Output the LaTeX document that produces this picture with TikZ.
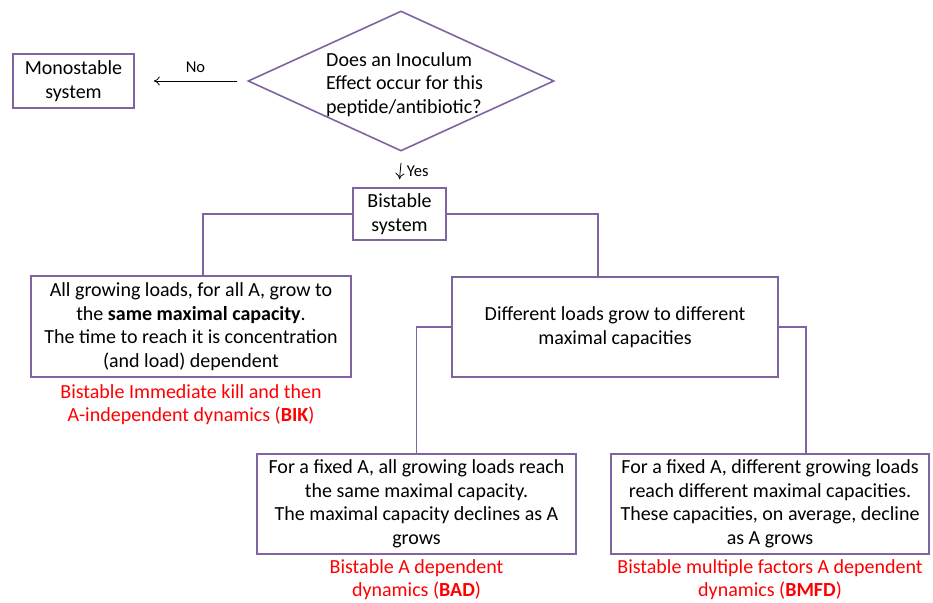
\documentclass[tikz,border=0pt]{standalone}
\usepackage{fontspec}
\setmainfont{Carlito}
\usetikzlibrary{shapes.geometric, positioning, arrows.meta}
\definecolor{boxpurple}{RGB}{128,100,162}
\definecolor{labelred}{RGB}{255,0,0}

\tikzset{
    every node/.style={font=\fontsize{20}{23.5}\selectfont},
    box/.style={draw=boxpurple, line width=1.6pt, align=center, inner sep=0pt},
    decision/.style={diamond, draw=boxpurple, line width=1.6pt, inner sep=0pt},
    link/.style={draw=boxpurple, line width=1.6pt},
    tag/.style={text=labelred, align=center},
    answer/.style={font=\fontsize{16.5}{19}\selectfont}
}

\begin{document}
\begin{tikzpicture}[x=1pt, y=-1pt, >={To[length=6pt, width=9pt]}]
    \useasboundingbox (0,0) rectangle (933,602);

    % Frage und erste Ebene
    \node[decision, minimum width=306pt, minimum height=140pt] (q) at (401,81) {};
    \node[right, align=left, inner sep=0pt] (qtext) at (326,84.5)
        {Does an Inoculum\\Effect occur for this\\peptide/antibiotic?};
    \node[box, minimum width=121pt, minimum height=54pt] (mono) at (73.5,81)
        {Monostable\\system};
    \node[box, minimum width=93pt, minimum height=52pt] (bist) at (399.5,214)
        {Bistable\\system};

    % Pfeile No / Yes
    \draw[->, line width=0.8pt] ([xshift=-10pt]q.west) -- ([xshift=19pt]mono.east)
        node[midway, above=5pt, answer] (no) {No};
    \draw[->, line width=0.8pt] ([yshift=-11pt]q.south) -- ([yshift=8pt]bist.north)
        node[midway, right=3pt, answer] (yes) {Yes};

    % zweite Ebene
    \node[box, minimum width=320pt, minimum height=101pt] (bik) at (191,326.5)
        {All growing loads, for all A, grow to\\the \textbf{same maximal capacity}.\\The time to reach it is concentration\\(and load) dependent};
    \node[tag] (biktag) at (191,404.5)
        {Bistable Immediate kill and then\\A-independent dynamics (\textbf{BIK})};
    \node[box, minimum width=326pt, minimum height=100pt] (mid) at (615,327)
        {Different loads grow to different\\maximal capacities};

    % dritte Ebene
    \node[box, minimum width=319pt, minimum height=100pt] (bad) at (416.5,504)
        {For a fixed A, all growing loads reach\\the same maximal capacity.\\The maximal capacity declines as A\\grows};
    \node[tag] (badtag) at (416.5,579.5)
        {Bistable A dependent\\dynamics (\textbf{BAD})};
    \node[box, minimum width=318pt, minimum height=100pt] (bmfd) at (770,504)
        {For a fixed A, different growing loads\\reach different maximal capacities.\\These capacities, on average, decline\\as A grows};
    \node[tag] (bmfdtag) at (770,579.5)
        {Bistable multiple factors A dependent\\dynamics (\textbf{BMFD})};

    % Verbindungen
    \draw[link] (bist.west) -| ([xshift=12pt]bik.north);
    \draw[link] (bist.east) -| ([xshift=-17pt]mid.north);
    \draw[link] (mid.west) -| (bad.north);
    \draw[link] (mid.east) -| ([xshift=36pt]bmfd.north);
\end{tikzpicture}
\end{document}
